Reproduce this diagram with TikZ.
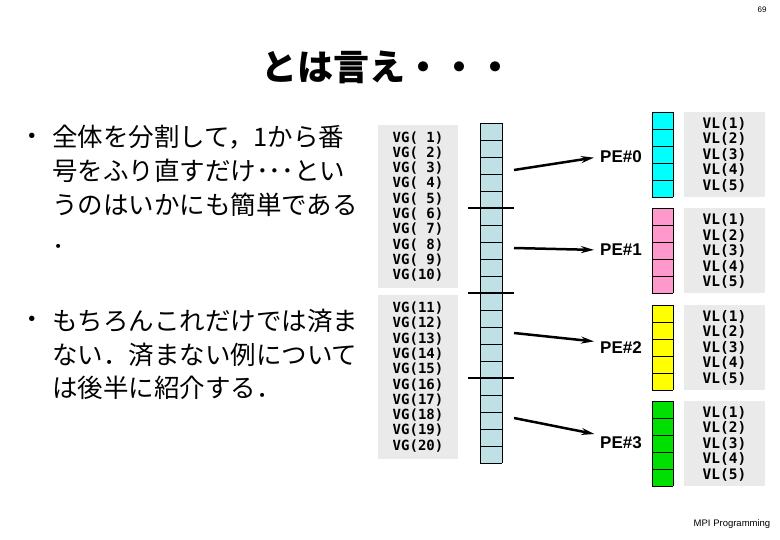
\documentclass[tikz,border=0pt]{standalone}
\usepackage{fontspec}
\setmainfont{Liberation Sans}
\setmonofont{DejaVu Sans Mono}
\newfontfamily\jpfont{Noto Sans CJK JP}
\usepackage{tikz}
\usetikzlibrary{arrows.meta}
\definecolor{boxgray}{HTML}{EAEAEA}
\definecolor{cellblue}{HTML}{BFE0E4}
\definecolor{cellcyan}{HTML}{00FFFF}
\definecolor{cellpink}{HTML}{FF99CC}
\definecolor{cellyellow}{HTML}{FFFF00}
\definecolor{cellgreen}{HTML}{00E000}

\begin{document}
\begin{tikzpicture}[x=1pt, y=1pt, yscale=-1,
  varbox/.style={fill=boxgray, inner sep=0pt, align=center, font=\ttfamily\bfseries\fontsize{14}{15.3}\selectfont},
  localbox/.style={varbox, font=\ttfamily\bfseries\fontsize{14.5}{15.5}\selectfont},
  pelabel/.style={font=\bfseries\fontsize{17}{17}\selectfont, inner sep=2pt},
  maparrow/.style={line width=2.5pt, -{Stealth[length=13pt,width=7pt]}, shorten >=4pt},
  cutline/.style={line width=2.5pt},
  bulletdot/.style={font=\fontsize{20}{20}\selectfont, inner sep=0pt},
  bullettext/.style={anchor=base west, align=left, inner sep=0pt, font=\jpfont\fontsize{25.5}{34}\selectfont}]
\useasboundingbox (0,0) rectangle (780,540);
\node[font=\fontsize{8}{8}\selectfont] (pageno) at (762,10) {69};
\node[font=\jpfont\bfseries\fontsize{36}{36}\selectfont] (title) at (387,67) {とは言え・・・};
\node[bulletdot] (dotA) at (32,138) {•};
\node[bullettext] (textA) at (52,248.5) {全体を分割して，1から番\\号をふり直すだけ･･･とい\\うのはいかにも簡単である\\．};
\node[bulletdot] (dotB) at (32,321) {•};
\node[bullettext] (textB) at (52,398) {もちろんこれだけでは済ま\\ない．済まない例について\\は後半に紹介する．};
\node[varbox, minimum width=80pt, minimum height=163pt] (vgA) at (418,206.5)
  {VG(~1)\\VG(~2)\\VG(~3)\\VG(~4)\\VG(~5)\\VG(~6)\\VG(~7)\\VG(~8)\\VG(~9)\\VG(10)};
\node[varbox, minimum width=80pt, minimum height=163pt] (vgB) at (418,377)
  {VG(11)\\VG(12)\\VG(13)\\VG(14)\\VG(15)\\VG(16)\\VG(17)\\VG(18)\\VG(19)\\VG(20)};
\begin{scope}[shift={(480,123)}]
\fill[cellblue] (0,0) rectangle (22,340);
\draw[xstep=22pt, ystep=17pt, line width=0.6pt] (0,0) grid (22,340);
\end{scope}
\draw[cutline] (468,208) -- (514,208);
\draw[cutline] (468,293) -- (514,293);
\draw[cutline] (468,378) -- (514,378);
\begin{scope}[shift={(652,112)}]
\fill[cellcyan] (0,0) rectangle (21,85);
\draw[xstep=21pt, ystep=17pt, line width=0.6pt] (0,0) grid (21,85);
\end{scope}
\begin{scope}[shift={(652,208.5)}]
\fill[cellpink] (0,0) rectangle (21,85);
\draw[xstep=21pt, ystep=17pt, line width=0.6pt] (0,0) grid (21,85);
\end{scope}
\begin{scope}[shift={(652,305)}]
\fill[cellyellow] (0,0) rectangle (21,85);
\draw[xstep=21pt, ystep=17pt, line width=0.6pt] (0,0) grid (21,85);
\end{scope}
\begin{scope}[shift={(652,401)}]
\fill[cellgreen] (0,0) rectangle (21,85);
\draw[xstep=21pt, ystep=17pt, line width=0.6pt] (0,0) grid (21,85);
\end{scope}
\node[localbox, minimum width=81pt, minimum height=85pt] (vlA) at (724.5,154.5) {VL(1)\\VL(2)\\VL(3)\\VL(4)\\VL(5)};
\node[localbox, minimum width=81pt, minimum height=85pt] (vlB) at (724.5,251) {VL(1)\\VL(2)\\VL(3)\\VL(4)\\VL(5)};
\node[localbox, minimum width=81pt, minimum height=85pt] (vlC) at (724.5,347.5) {VL(1)\\VL(2)\\VL(3)\\VL(4)\\VL(5)};
\node[localbox, minimum width=81pt, minimum height=85pt] (vlD) at (724.5,443.5) {VL(1)\\VL(2)\\VL(3)\\VL(4)\\VL(5)};
\node[pelabel] (pe0) at (621,157) {PE\#0};
\node[pelabel] (pe1) at (621,250) {PE\#1};
\node[pelabel] (pe2) at (621,348) {PE\#2};
\node[pelabel] (pe3) at (621,443) {PE\#3};
\coordinate (from0) at (514,170);
\coordinate (from1) at (514,248);
\coordinate (from2) at (514,333);
\coordinate (from3) at (514,418);
\draw[maparrow] (from0) -- (pe0.west);
\draw[maparrow] (from1) -- (pe1.west);
\draw[maparrow] (from2) -- (pe2.165);
\draw[maparrow] (from3) -- (pe3.160);
\node[font=\fontsize{9.5}{9.5}\selectfont] (footer) at (732,524) {MPI Programming};
\end{tikzpicture}
\end{document}
